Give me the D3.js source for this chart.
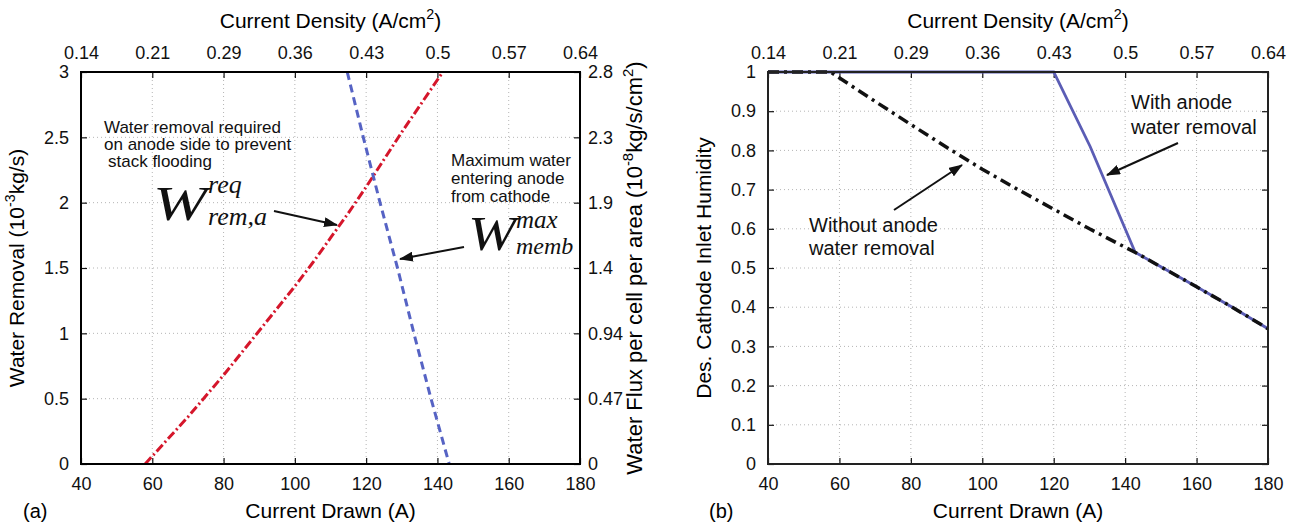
<!DOCTYPE html>
<html>
<head>
<meta charset="utf-8">
<script src="https://cdn.jsdelivr.net/npm/d3@7.9.0/dist/d3.min.js"></script>
<style>
  body { margin: 0; background: #fff; }
  svg { display: block; font-family: "Liberation Sans", Arial, sans-serif; }
  .grid line { stroke: #b5b5b5; stroke-width: 1; stroke-dasharray: 1,3; }
  .math { font-family: "Liberation Serif", "Times New Roman", serif; font-style: italic; }
</style>
</head>
<body>
<svg id="chart" width="1299" height="525"></svg>
<script>
// axis ticks shared by both panels
const currentTicks = [40, 60, 80, 100, 120, 140, 160, 180];
const densityLabels = ["0.14", "0.21", "0.29", "0.36", "0.43", "0.5", "0.57", "0.64"];
const removalTicks = [0, 0.5, 1, 1.5, 2, 2.5, 3];
const fluxLabels = ["0", "0.47", "0.94", "1.4", "1.9", "2.3", "2.8"];
const humidityTicks = [0, 0.1, 0.2, 0.3, 0.4, 0.5, 0.6, 0.7, 0.8, 0.9, 1];

// (a) required anode water removal, 10^-3 kg/s
const reqCurrent = [58, 65, 70, 75, 80, 85, 90, 95, 100, 105, 110, 115, 120, 125, 130, 135, 141.5];
const reqRemoval = [0, 0.21, 0.36, 0.52, 0.68, 0.85, 1.02, 1.19, 1.36, 1.54, 1.73, 1.92, 2.12, 2.33, 2.54, 2.74, 3.0];

// (a) max water entering anode from cathode
const membCurrent = [114.7, 119.2, 123.9, 128.8, 133.4, 138.2, 143.3];
const membRemoval = [3, 2.5, 2, 1.5, 1, 0.5, 0];

// (b) desired cathode inlet humidity
const withoutCurrent = [40, 50, 57.5, 70, 80, 90, 100, 110, 120, 130, 140, 143, 150, 160, 170, 180];
const withoutHumidity = [1, 1, 1, 0.925, 0.866, 0.808, 0.752, 0.70, 0.65, 0.60, 0.553, 0.539, 0.503, 0.452, 0.40, 0.345];
const withCurrent = [40, 120, 130.2, 142.8, 150, 160, 170, 180];
const withHumidity = [1, 1, 0.81, 0.54, 0.503, 0.452, 0.40, 0.345];

const svg = d3.select("#chart");

const panelA = { left: 81, right: 580, top: 72, bottom: 464 };
const panelB = { left: 768, right: 1268, top: 72, bottom: 464 };

const defs = svg.append("defs");
defs.append("marker")
  .attr("id", "head")
  .attr("viewBox", "0 0 14 10")
  .attr("refX", 13).attr("refY", 5)
  .attr("markerWidth", 14).attr("markerHeight", 10)
  .attr("markerUnits", "userSpaceOnUse")
  .attr("orient", "auto")
  .append("path")
  .attr("d", "M0,0 L14,5 L0,10 Z")
  .attr("fill", "#111");

function richText(text, parts, size) {
  let raised = false;
  for (const [s, sup] of parts) {
    const t = text.append("tspan").text(s);
    if (sup) {
      t.attr("font-size", size * 0.68);
      if (!raised) t.attr("dy", -size * 0.42);
      raised = true;
    } else if (raised) {
      t.attr("dy", size * 0.42);
      raised = false;
    }
  }
}

function styleAxis(g) {
  g.select(".domain").remove();
  g.attr("font-size", 18).attr("font-family", "Liberation Sans, Arial, sans-serif");
  g.selectAll(".tick line").attr("stroke", "#111").attr("stroke-width", 1.2);
  g.selectAll(".tick text").attr("fill", "#111");
}

function drawPanel(box, yDomain, yTicks, rightFormat, frameColor) {
  const x = d3.scaleLinear().domain([40, 180]).range([box.left, box.right]);
  const y = d3.scaleLinear().domain(yDomain).range([box.bottom, box.top]);
  const g = svg.append("g");

  g.append("g").attr("class", "grid")
    .selectAll("line").data(currentTicks.slice(1, -1)).join("line")
    .attr("x1", d => x(d)).attr("x2", d => x(d))
    .attr("y1", box.top).attr("y2", box.bottom);
  g.append("g").attr("class", "grid")
    .selectAll("line").data(yTicks.slice(1, -1)).join("line")
    .attr("x1", box.left).attr("x2", box.right)
    .attr("y1", d => y(d)).attr("y2", d => y(d));

  g.append("g").attr("transform", `translate(0,${box.bottom})`)
    .call(d3.axisBottom(x).tickValues(currentTicks).tickSize(-6).tickPadding(13))
    .call(styleAxis);
  g.append("g").attr("transform", `translate(0,${box.top})`)
    .call(d3.axisTop(x).tickValues(currentTicks).tickSize(-6).tickPadding(13)
      .tickFormat((d, i) => densityLabels[i]))
    .call(styleAxis);
  g.append("g").attr("transform", `translate(${box.left},0)`)
    .call(d3.axisLeft(y).tickValues(yTicks).tickSize(-6).tickPadding(12).tickFormat(d3.format("~g")))
    .call(styleAxis);
  g.append("g").attr("transform", `translate(${box.right},0)`)
    .call(d3.axisRight(y).tickValues(yTicks).tickSize(-6).tickPadding(8).tickFormat(rightFormat))
    .call(styleAxis);

  const clipId = "clip" + box.left;
  defs.append("clipPath").attr("id", clipId)
    .append("rect")
    .attr("x", box.left).attr("y", box.top - 2)
    .attr("width", box.right - box.left).attr("height", box.bottom - box.top + 2);

  const curves = g.append("g").attr("clip-path", `url(#${clipId})`);

  g.append("rect")
    .attr("x", box.left).attr("y", box.top)
    .attr("width", box.right - box.left).attr("height", box.bottom - box.top)
    .attr("fill", "none").attr("stroke", frameColor).attr("stroke-width", 2);

  const cx = (box.left + box.right) / 2;
  g.append("text")
    .attr("x", cx).attr("y", 518)
    .attr("text-anchor", "middle").attr("font-size", 21)
    .text("Current Drawn (A)");
  const top = g.append("text")
    .attr("x", cx).attr("y", 28)
    .attr("text-anchor", "middle").attr("font-size", 21);
  richText(top, [["Current Density (A/cm"], ["2", true], [")"]], 21);

  return { x, y, g, curves };
}

// ---------- panel (a)
const a = drawPanel(panelA, [0, 3], removalTicks, (d, i) => fluxLabels[i], "#000");

const lineA = d3.line().x(d => a.x(d[0])).y(d => a.y(d[1]));

a.curves.append("path")
  .datum(d3.zip(reqCurrent, reqRemoval))
  .attr("d", lineA)
  .attr("fill", "none").attr("stroke", "#d5162b").attr("stroke-width", 3)
  .attr("stroke-dasharray", "9,3,2,3");

a.curves.append("path")
  .datum(d3.zip(membCurrent, membRemoval))
  .attr("d", lineA)
  .attr("fill", "none").attr("stroke", "#5663c4").attr("stroke-width", 3)
  .attr("stroke-dasharray", "8,5");

const ylA = a.g.append("text")
  .attr("transform", `translate(24,${(panelA.top + panelA.bottom) / 2}) rotate(-90)`)
  .attr("text-anchor", "middle").attr("font-size", 21);
richText(ylA, [["Water Removal (10"], ["-3", true], ["kg/s)"]], 21);

const yrA = a.g.append("text")
  .attr("transform", `translate(642,${(panelA.top + panelA.bottom) / 2}) rotate(-90)`)
  .attr("text-anchor", "middle").attr("font-size", 22);
richText(yrA, [["Water Flux per cell per area (10"], ["-8", true], ["kg/s/cm"], ["2", true], [")"]], 22);

svg.append("text").attr("x", 23).attr("y", 518).attr("font-size", 20).text("(a)");

const noteA = svg.append("g").attr("font-size", 17).attr("fill", "#111");
[["Water removal required", 104, 133], ["on anode side to prevent", 104, 150], ["stack flooding", 108, 167],
 ["Maximum water", 451, 166], ["entering anode", 451, 184], ["from cathode", 451, 202]]
  .forEach(([t, x, y]) => noteA.append("text").attr("x", x).attr("y", y).text(t));

const mathA = svg.append("g").attr("class", "math").attr("fill", "#111");
mathA.append("text").attr("x", 153).attr("y", 220).attr("font-size", 48)
  .attr("textLength", 54).attr("lengthAdjust", "spacingAndGlyphs").text("W");
mathA.append("text").attr("x", 208).attr("y", 193).attr("font-size", 26).text("req");
mathA.append("text").attr("x", 208).attr("y", 225).attr("font-size", 26).text("rem,a");
mathA.append("text").attr("x", 468).attr("y", 250).attr("font-size", 48)
  .attr("textLength", 48).attr("lengthAdjust", "spacingAndGlyphs").text("W");
mathA.append("text").attr("x", 516).attr("y", 228).attr("font-size", 25).text("max");
mathA.append("text").attr("x", 516).attr("y", 254).attr("font-size", 24).text("memb");

function arrow(x1, y1, x2, y2) {
  svg.append("line")
    .attr("x1", x1).attr("y1", y1).attr("x2", x2).attr("y2", y2)
    .attr("stroke", "#111").attr("stroke-width", 2)
    .attr("marker-end", "url(#head)");
}
arrow(274, 211, 337, 225);
arrow(464, 247, 400, 259);

// ---------- panel (b)
const b = drawPanel(panelB, [0, 1], humidityTicks, "", "#222");

const lineB = d3.line().x(d => b.x(d[0])).y(d => b.y(d[1]));

b.curves.append("path")
  .datum(d3.zip(withCurrent, withHumidity))
  .attr("d", lineB)
  .attr("fill", "none").attr("stroke", "#5b5db5").attr("stroke-width", 2.8);

b.curves.append("path")
  .datum(d3.zip(withoutCurrent, withoutHumidity))
  .attr("d", lineB)
  .attr("fill", "none").attr("stroke", "#111").attr("stroke-width", 3.5)
  .attr("stroke-dasharray", "11,5,3,5");

b.g.append("text")
  .attr("transform", `translate(711,${(panelB.top + panelB.bottom) / 2}) rotate(-90)`)
  .attr("text-anchor", "middle").attr("font-size", 21)
  .text("Des. Cathode Inlet Humidity");

svg.append("text").attr("x", 709).attr("y", 518).attr("font-size", 20).text("(b)");

const noteB = svg.append("g").attr("font-size", 20).attr("fill", "#111");
[["With anode", 1131, 109], ["water removal", 1131, 134],
 ["Without anode", 809, 232], ["water removal", 809, 255]]
  .forEach(([t, x, y]) => noteB.append("text").attr("x", x).attr("y", y).text(t));

arrow(1178, 143, 1107, 175);
arrow(894, 210, 962, 165);
</script>
</body>
</html>
